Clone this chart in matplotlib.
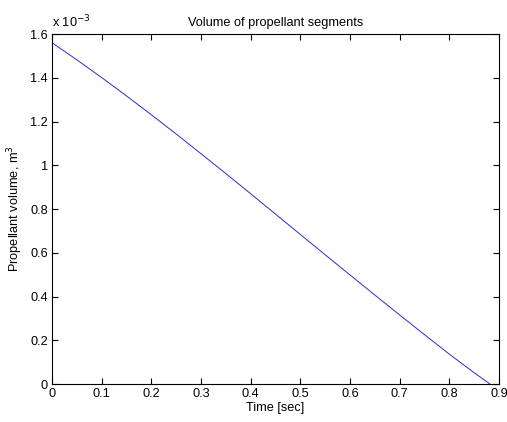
import numpy as np
import matplotlib
matplotlib.use("Agg")
import matplotlib.pyplot as plt
from matplotlib.ticker import FuncFormatter

# Datos (volumen en unidades de 1e-3 m^3)
tiempo = [0.0, 0.05, 0.1, 0.15, 0.2, 0.25, 0.3, 0.35, 0.4, 0.45,
          0.5, 0.55, 0.6, 0.65, 0.7, 0.75, 0.8, 0.85, 0.882]
volumen_e3 = [1.560, 1.482, 1.401, 1.317, 1.231, 1.143, 1.053, 0.962, 0.870,
              0.777, 0.684, 0.591, 0.499, 0.407, 0.316, 0.226, 0.137, 0.052, 0.0]
xticks = [0, 0.1, 0.2, 0.3, 0.4, 0.5, 0.6, 0.7, 0.8, 0.9]
yticks = [0, 0.2, 0.4, 0.6, 0.8, 1.0, 1.2, 1.4, 1.6]

plt.rcParams["font.family"] = ["Liberation Sans", "DejaVu Sans"]
FS = 9.2

volumen = np.array(volumen_e3) * 1e-3

fig = plt.figure(figsize=(5.07, 4.22), dpi=100)
ax = fig.add_axes([0.1026, 0.09, 0.984 - 0.1026, 0.9194 - 0.09])
ax.plot(tiempo, volumen, color="#2b2bd0", lw=0.7)

ax.set_xlim(0, 0.9)
ax.set_ylim(0, 1.6e-3)
ax.set_xticks(xticks)
ax.set_yticks(np.array(yticks) * 1e-3)
ax.xaxis.set_major_formatter(FuncFormatter(lambda v, p: f"{v:g}"))
ax.yaxis.set_major_formatter(FuncFormatter(lambda v, p: f"{v*1e3:g}"))
ax.tick_params(direction="in", length=4, width=0.8, top=True, right=True,
               labelsize=FS, pad=3)
for s in ax.spines.values():
    s.set_linewidth(0.8)

ax.set_title("Volume of propellant segments", fontsize=FS, pad=6)
ax.set_xlabel("Time [sec]", fontsize=FS, labelpad=1)
ax.set_ylabel("Propellant volume, m$^3$", fontsize=FS, labelpad=4)
ax.text(0.0, 1.01, r"x 10$^{-3}$", transform=ax.transAxes, fontsize=FS,
        ha="left", va="bottom")

fig.savefig("out.png", dpi=100)
